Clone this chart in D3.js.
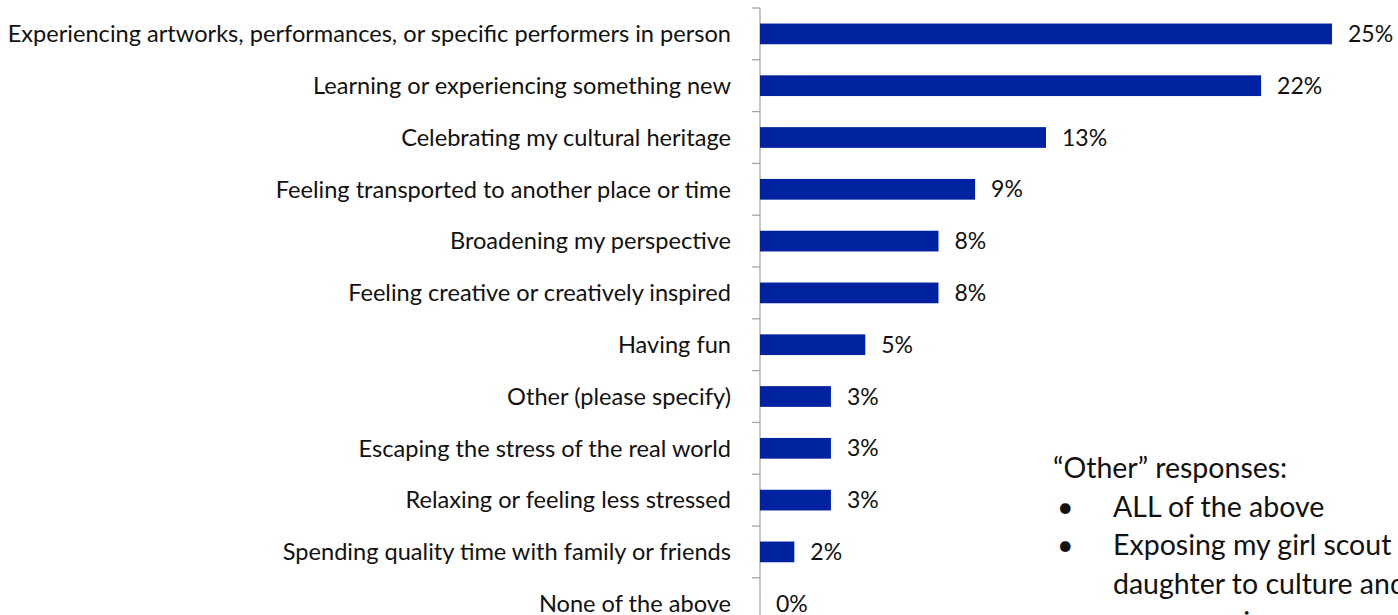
<!DOCTYPE html>
<html>
<head>
<meta charset="utf-8">
<script src="https://cdn.jsdelivr.net/npm/d3@7"></script>
<style>
  html, body { margin: 0; padding: 0; background: #fff; }
  svg { display: block; }
  text { font-family: Lato, "Open Sans", sans-serif; fill: #111; }
</style>
</head>
<body>
<svg id="chart" width="1398" height="615"></svg>
<script>
// Survey categories, top to bottom
const categories = [
  "Experiencing artworks, performances, or specific performers in person",
  "Learning or experiencing something new",
  "Celebrating my cultural heritage",
  "Feeling transported to another place or time",
  "Broadening my perspective",
  "Feeling creative or creatively inspired",
  "Having fun",
  "Other (please specify)",
  "Escaping the stress of the real world",
  "Relaxing or feeling less stressed",
  "Spending quality time with family or friends",
  "None of the above"
];

// Share of respondents (percent); labels show the rounded value
const values = [25, 21.9, 12.5, 9.4, 7.8, 7.8, 4.6, 3.1, 3.1, 3.1, 1.5, 0];

// Write-in answers for "Other"
const otherTitle = "\u201COther\u201D responses:";
const otherItems = [
  ["ALL of the above"],
  ["Exposing my girl scout", "daughter to culture and", "new experiences"]
];

const svg = d3.select("#chart");

const axisX = 760;
const x = d3.scaleLinear().domain([0, 25]).range([axisX, 1332]);
const y = d3.scaleBand().domain(categories).range([8, 8 + 51.8 * categories.length]).padding(0);
const barH = y.bandwidth() * 0.4;

// Category axis: vertical line with ticks between bands
const axis = d3.axisLeft(y).tickSize(0).tickFormat("");
const gAxis = svg.append("g").attr("transform", `translate(${axisX},0)`).call(axis);
gAxis.select(".domain").remove();
gAxis.append("line")
  .attr("x1", 0).attr("x2", 0)
  .attr("y1", y.range()[0]).attr("y2", y.range()[1])
  .attr("stroke", "#a6a6a6").attr("stroke-width", 1.3);
const boundaries = categories.map(c => y(c)).concat([y.range()[1]]);
gAxis.selectAll("line.tk").data(boundaries).join("line")
  .attr("class", "tk")
  .attr("x1", -8).attr("x2", 0)
  .attr("y1", d => d).attr("y2", d => d)
  .attr("stroke", "#a6a6a6").attr("stroke-width", 1.3);

// Category labels
svg.append("g").selectAll("text").data(categories).join("text")
  .attr("x", 731)
  .attr("y", d => y(d) + y.bandwidth() / 2)
  .attr("dy", "0.35em")
  .attr("text-anchor", "end")
  .style("font-size", "23.6px")
  .text(d => d);

// Bars
const rows = categories.map((c, i) => ({ c, v: values[i] }));
svg.append("g").selectAll("rect").data(rows).join("rect")
  .attr("x", x(0))
  .attr("y", d => y(d.c) + (y.bandwidth() - barH) / 2)
  .attr("width", d => x(d.v) - x(0))
  .attr("height", barH)
  .attr("fill", "#0021a0");

// Value labels
svg.append("g").selectAll("text").data(rows).join("text")
  .attr("x", d => x(d.v) + 16)
  .attr("y", d => y(d.c) + y.bandwidth() / 2)
  .attr("dy", "0.35em")
  .style("font-size", "23px")
  .text(d => Math.round(d.v) + "%");

// "Other" responses note
const note = svg.append("g");
let ly = 478;
const lineStep = 38.5;
note.append("text").attr("x", 1053).attr("y", ly).style("font-size", "28.5px").text(otherTitle);
otherItems.forEach(item => {
  ly += lineStep;
  note.append("text").attr("x", 1057).attr("y", ly).style("font-size", "28.5px").text("\u2022");
  item.forEach((line, j) => {
    if (j > 0) ly += lineStep;
    note.append("text").attr("x", 1113).attr("y", ly).style("font-size", "28.5px").text(line);
  });
});
</script>
</body>
</html>
